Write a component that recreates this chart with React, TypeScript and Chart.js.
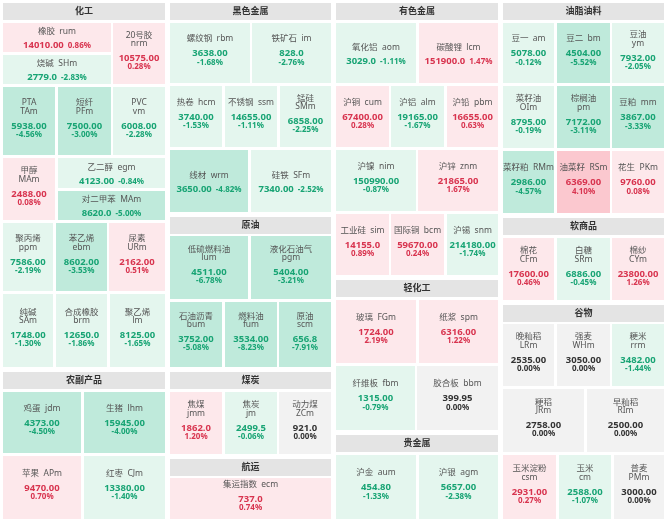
import React, { useEffect, useRef } from 'react';
import { Chart, registerables } from 'chart.js';

Chart.register(...registerables);

const W = 665;
const H = 519;

// ---------- data ----------
const GROUP_NAMES = ['化工', '农副产品', '黑色金属', '原油', '煤炭', '航运', '有色金属', '轻化工', '贵金属', '油脂油料', '软商品', '谷物'];

const NAMES = ['橡胶', '20号胶', '烧碱', 'PTA', '短纤', 'PVC', '甲醇', '乙二醇', '对二甲苯', '聚丙烯', '苯乙烯', '尿素', '纯碱', '合成橡胶', '聚乙烯',
  '鸡蛋', '生猪', '苹果', '红枣',
  '螺纹钢', '铁矿石', '热卷', '不锈钢', '锰硅', '线材', '硅铁',
  '低硫燃料油', '液化石油气', '石油沥青', '燃料油', '原油',
  '焦煤', '焦炭', '动力煤',
  '集运指数',
  '氧化铝', '碳酸锂', '沪铜', '沪铝', '沪铅', '沪镍', '沪锌', '工业硅', '国际铜', '沪锡',
  '玻璃', '纸浆', '纤维板', '胶合板',
  '沪金', '沪银',
  '豆一', '豆二', '豆油', '菜籽油', '棕榈油', '豆粕', '菜籽粕', '油菜籽', '花生',
  '棉花', '白糖', '棉纱',
  '晚籼稻', '强麦', '粳米', '粳稻', '早籼稻', '玉米淀粉', '玉米', '普麦'];

const CODES = ['rum', 'nrm', 'SHm', 'TAm', 'PFm', 'vm', 'MAm', 'egm', 'MAm', 'ppm', 'ebm', 'URm', 'SAm', 'brm', 'lm',
  'jdm', 'lhm', 'APm', 'CJm',
  'rbm', 'im', 'hcm', 'ssm', 'SMm', 'wrm', 'SFm',
  'lum', 'pgm', 'bum', 'fum', 'scm',
  'jmm', 'jm', 'ZCm',
  'ecm',
  'aom', 'lcm', 'cum', 'alm', 'pbm', 'nim', 'znm', 'sim', 'bcm', 'snm',
  'FGm', 'spm', 'fbm', 'bbm',
  'aum', 'agm',
  'am', 'bm', 'ym', 'OIm', 'pm', 'mm', 'RMm', 'RSm', 'PKm',
  'CFm', 'SRm', 'CYm',
  'LRm', 'WHm', 'rrm', 'JRm', 'RIm', 'csm', 'cm', 'PMm'];

const PRICES = [14010, 10575, 2779, 5938, 7500, 6008, 2488, 4123, 8620, 7586, 8602, 2162, 1748, 12650, 8125,
  4373, 15945, 9470, 13380,
  3638, 828, 3740, 14655, 6858, 3650, 7340,
  4511, 5404, 3752, 3534, 656.8,
  1862, 2499.5, 921,
  737,
  3029, 151900, 67400, 19165, 16655, 150990, 21865, 14155, 59670, 214180,
  1724, 6316, 1315, 399.95,
  454.8, 5657,
  5078, 4504, 7932, 8795, 7172, 3867, 2986, 6369, 9760,
  17600, 6886, 23800,
  2535, 3050, 3482, 2758, 2500, 2931, 2588, 3000];

const DECIMALS = [2, 2, 1, 2, 2, 2, 2, 2, 1, 2, 2, 2, 2, 1, 2,
  2, 2, 2, 2,
  2, 1, 2, 2, 2, 2, 2,
  2, 2, 2, 2, 1,
  1, 1, 1,
  1,
  1, 1, 2, 2, 2, 2, 2, 1, 2, 2,
  2, 2, 2, 2,
  2, 2,
  2, 2, 2, 2, 2, 2, 2, 2, 2,
  2, 2, 2,
  2, 2, 2, 2, 2, 2, 2, 2];

const CHANGES = [0.86, 0.28, -2.83, -4.56, -3.00, -2.28, 0.08, -0.84, -5.00, -2.19, -3.53, 0.51, -1.30, -1.86, -1.65,
  -4.50, -4.00, 0.70, -1.40,
  -1.68, -2.76, -1.53, -1.11, -2.25, -4.82, -2.52,
  -6.78, -3.21, -5.08, -8.23, -7.91,
  1.20, -0.06, 0.00,
  0.74,
  -1.11, 1.47, 0.28, -1.67, 0.63, -0.87, 1.67, 0.89, 0.24, -1.74,
  2.19, 1.22, -0.79, 0.00,
  -1.33, -2.38,
  -0.12, -5.52, -2.05, -0.19, -3.11, -3.33, -4.57, 4.10, 0.08,
  0.46, -0.45, 1.26,
  0.00, 0.00, -1.44, 0.00, 0.00, 0.27, -1.07, 0.00];

// ---------- label style flags ----------
const STACKED_LABEL = new Set([1, 3, 4, 5, 6, 9, 10, 11, 12, 13, 14, 23, 26, 27, 28, 29, 30, 31, 32, 33, 53, 54, 55, 60, 61, 62, 63, 64, 65, 66, 67, 68, 69, 70]);
const INLINE_VALUE = new Set([0, 2, 7, 8, 24, 25, 35, 36]);

// ---------- treemap structure (relative weights) ----------
type CellSpec = { w: number; i?: number; stack?: number[] };
type RowSpec = { h: number; cells: CellSpec[] };
type GroupSpec = { g: number; h: number; rows: RowSpec[] };

const LAYOUT: GroupSpec[][] = [
  [
    { g: 0, h: 364, rows: [
      { h: 62, cells: [{ w: 107, stack: [0, 2] }, { w: 51, i: 1 }] },
      { h: 69, cells: [{ w: 52, i: 3 }, { w: 53, i: 4 }, { w: 51, i: 5 }] },
      { h: 63, cells: [{ w: 52, i: 6 }, { w: 107, stack: [7, 8] }] },
      { h: 68, cells: [{ w: 50, i: 9 }, { w: 51, i: 10 }, { w: 55, i: 11 }] },
      { h: 74, cells: [{ w: 50, i: 12 }, { w: 51, i: 13 }, { w: 54, i: 14 }] },
    ] },
    { g: 1, h: 147, rows: [
      { h: 61, cells: [{ w: 78, i: 15 }, { w: 80, i: 16 }] },
      { h: 63, cells: [{ w: 78, i: 17 }, { w: 80, i: 18 }] },
    ] },
  ],
  [
    { g: 2, h: 208, rows: [
      { h: 60, cells: [{ w: 79, i: 19 }, { w: 78, i: 20 }] },
      { h: 61, cells: [{ w: 52, i: 21 }, { w: 52, i: 22 }, { w: 51, i: 23 }] },
      { h: 61, cells: [{ w: 78, i: 24 }, { w: 79, i: 25 }] },
    ] },
    { g: 3, h: 150, rows: [
      { h: 61, cells: [{ w: 78, i: 26 }, { w: 79, i: 27 }] },
      { h: 63, cells: [{ w: 52, i: 28 }, { w: 51, i: 29 }, { w: 51, i: 30 }] },
    ] },
    { g: 4, h: 81, rows: [
      { h: 61, cells: [{ w: 52, i: 31 }, { w: 51, i: 32 }, { w: 51, i: 33 }] },
    ] },
    { g: 5, h: 60, rows: [
      { h: 40, cells: [{ w: 1, i: 34 }] },
    ] },
  ],
  [
    { g: 6, h: 272, rows: [
      { h: 60, cells: [{ w: 80, i: 35 }, { w: 79, i: 36 }] },
      { h: 61, cells: [{ w: 53, i: 37 }, { w: 53, i: 38 }, { w: 51, i: 39 }] },
      { h: 61, cells: [{ w: 79, i: 40 }, { w: 79, i: 41 }] },
      { h: 61, cells: [{ w: 53, i: 42 }, { w: 53, i: 43 }, { w: 51, i: 44 }] },
    ] },
    { g: 7, h: 150, rows: [
      { h: 61, cells: [{ w: 80, i: 45 }, { w: 79, i: 46 }] },
      { h: 62, cells: [{ w: 78, i: 47 }, { w: 79, i: 48 }] },
    ] },
    { g: 8, h: 84, rows: [
      { h: 62, cells: [{ w: 80, i: 49 }, { w: 79, i: 50 }] },
    ] },
  ],
  [
    { g: 9, h: 208, rows: [
      { h: 60, cells: [{ w: 52, i: 51 }, { w: 53, i: 52 }, { w: 52, i: 53 }] },
      { h: 61, cells: [{ w: 52, i: 54 }, { w: 53, i: 55 }, { w: 52, i: 56 }] },
      { h: 61, cells: [{ w: 52, i: 57 }, { w: 53, i: 58 }, { w: 52, i: 59 }] },
    ] },
    { g: 10, h: 81, rows: [
      { h: 61, cells: [{ w: 52, i: 60 }, { w: 53, i: 61 }, { w: 52, i: 62 }] },
    ] },
    { g: 11, h: 212, rows: [
      { h: 59, cells: [{ w: 52, i: 63 }, { w: 53, i: 64 }, { w: 52, i: 65 }] },
      { h: 61, cells: [{ w: 80, i: 66 }, { w: 76, i: 67 }] },
      { h: 62, cells: [{ w: 52, i: 68 }, { w: 51, i: 69 }, { w: 49, i: 70 }] },
    ] },
  ],
];

// ---------- style constants ----------
const OUTER = { l: 3, t: 3, r: 664, b: 519 };
const COL_GAP = 5;
const GROUP_GAP = 5;
const HEADER_H = 17;
const HEADER_GAP = 2.5;
const ROW_GAP = 3;
const CELL_GAP = 2.5;

const FONT_FAMILY = "'Noto Sans', 'Noto Sans CJK SC', sans-serif";
const NAME_FONT = `8.5px ${FONT_FAMILY}`;
const VALUE_FONT = `bold 9.5px ${FONT_FAMILY}`;
const PCT_FONT = `bold 8px ${FONT_FAMILY}`;
const HEADER_FONT = `bold 9px ${FONT_FAMILY}`;

const HEADER_BG = '#e4e4e4';
const HEADER_TEXT = '#333333';
const NAME_TEXT = '#555555';
const UP_TEXT = '#d8344f';
const DOWN_TEXT = '#18a474';
const FLAT_TEXT = '#333333';

function cellColor(ch: number): string {
  if (ch >= 3) return '#fbc8cf';
  if (ch > 0) return '#fde8eb';
  if (ch <= -3) return '#bfeadb';
  if (ch < 0) return '#e4f6ee';
  return '#f2f2f2';
}
function textColor(ch: number): string {
  if (ch > 0) return UP_TEXT;
  if (ch < 0) return DOWN_TEXT;
  return FLAT_TEXT;
}

type Rect = { x0: number; y0: number; x1: number; y1: number };

function split(start: number, len: number, weights: number[], gap: number): [number, number][] {
  const total = weights.reduce((a, b) => a + b, 0);
  const avail = len - gap * (weights.length - 1);
  let pos = start;
  return weights.map((w) => {
    const s = pos;
    const e = s + (avail * w) / total;
    pos = e + gap;
    return [s, e] as [number, number];
  });
}

function computeLayout() {
  const headers: { g: number; r: Rect }[] = [];
  const cells: { i: number; r: Rect }[] = [];
  const cols = split(OUTER.l, OUTER.r - OUTER.l, LAYOUT.map(() => 1), COL_GAP);
  LAYOUT.forEach((groups, ci) => {
    const [x0, x1] = cols[ci];
    const gs = split(OUTER.t, OUTER.b - OUTER.t, groups.map((g) => g.h), GROUP_GAP);
    groups.forEach((grp, gi) => {
      const [gy0, gy1] = gs[gi];
      headers.push({ g: grp.g, r: { x0, x1, y0: gy0, y1: gy0 + HEADER_H } });
      const by0 = gy0 + HEADER_H + HEADER_GAP;
      const rows = split(by0, gy1 - by0, grp.rows.map((r) => r.h), ROW_GAP);
      grp.rows.forEach((row, ri) => {
        const [ry0, ry1] = rows[ri];
        const cs = split(x0, x1 - x0, row.cells.map((c) => c.w), CELL_GAP);
        row.cells.forEach((c, k) => {
          const [cx0, cx1] = cs[k];
          if (c.stack) {
            const st = split(ry0, ry1 - ry0, c.stack.map(() => 1), ROW_GAP);
            c.stack.forEach((idx, si) => {
              cells.push({ i: idx, r: { x0: cx0, x1: cx1, y0: st[si][0], y1: st[si][1] } });
            });
          } else if (c.i !== undefined) {
            cells.push({ i: c.i, r: { x0: cx0, x1: cx1, y0: ry0, y1: ry1 } });
          }
        });
      });
    });
  });
  return { headers, cells };
}

const LAYOUT_RESULT = computeLayout();

function drawCellText(ctx: CanvasRenderingContext2D, i: number, l: number, t: number, r: number, b: number) {
  const ch = CHANGES[i];
  const col = textColor(ch);
  const cx = (l + r) / 2;
  const inline = INLINE_VALUE.has(i);
  const nameLines = STACKED_LABEL.has(i) ? [NAMES[i], CODES[i]] : [NAMES[i] + '  ' + CODES[i]];
  const price = PRICES[i].toFixed(DECIMALS[i]);
  const pct = ch.toFixed(2) + '%';
  const NAME_LH = 8.5;
  const VAL_LH = 9;
  const PCT_LH = 8;
  const gap = inline ? 4 : 6;
  const blockH = nameLines.length * NAME_LH + gap + (inline ? VAL_LH : VAL_LH + PCT_LH);
  const cy = (t + b) / 2 + (inline ? 1 : -2.5);
  let y = cy - blockH / 2;
  ctx.textBaseline = 'middle';
  ctx.textAlign = 'center';
  ctx.fillStyle = NAME_TEXT;
  ctx.font = NAME_FONT;
  nameLines.forEach((ln) => {
    ctx.fillText(ln, cx, y + NAME_LH / 2);
    y += NAME_LH;
  });
  y += gap;
  ctx.fillStyle = col;
  if (inline) {
    ctx.font = VALUE_FONT;
    const wv = ctx.measureText(price).width;
    ctx.font = PCT_FONT;
    const wp = ctx.measureText(pct).width;
    const space = 4;
    const total = wv + space + wp;
    const base = y + VAL_LH / 2 + 3.3;
    ctx.textBaseline = 'alphabetic';
    ctx.textAlign = 'left';
    ctx.font = VALUE_FONT;
    ctx.fillText(price, cx - total / 2, base);
    ctx.font = PCT_FONT;
    ctx.fillText(pct, cx - total / 2 + wv + space, base);
  } else {
    ctx.font = VALUE_FONT;
    ctx.fillText(price, cx, y + VAL_LH / 2);
    y += VAL_LH;
    ctx.font = PCT_FONT;
    ctx.fillText(pct, cx, y + PCT_LH / 2);
  }
}

const treemapPlugin = {
  id: 'treemapCells',
  afterDatasetsDraw(chart: any) {
    const { ctx } = chart;
    const xs = chart.scales.x;
    const ys = chart.scales.y;
    const px = (v: number) => Math.round(xs.getPixelForValue(v));
    const py = (v: number) => Math.round(ys.getPixelForValue(v));
    ctx.save();
    LAYOUT_RESULT.headers.forEach(({ g, r }) => {
      const l = px(r.x0), rr = px(r.x1), t = py(r.y0), b = py(r.y1);
      ctx.fillStyle = HEADER_BG;
      ctx.fillRect(l, t, rr - l, b - t);
      ctx.fillStyle = HEADER_TEXT;
      ctx.font = HEADER_FONT;
      ctx.textAlign = 'center';
      ctx.textBaseline = 'middle';
      ctx.fillText(GROUP_NAMES[g], (l + rr) / 2, (t + b) / 2);
    });
    LAYOUT_RESULT.cells.forEach(({ i, r }) => {
      const l = px(r.x0), rr = px(r.x1), t = py(r.y0), b = py(r.y1);
      ctx.fillStyle = cellColor(CHANGES[i]);
      ctx.fillRect(l, t, rr - l, b - t);
      drawCellText(ctx, i, l, t, rr, b);
    });
    ctx.restore();
  },
};

export default function App() {
  const ref = useRef<HTMLCanvasElement>(null);
  useEffect(() => {
    document.body.style.margin = '0';
    const canvas = ref.current;
    if (!canvas) return;
    const centers = LAYOUT_RESULT.cells.map(({ r }) => ({ x: (r.x0 + r.x1) / 2, y: (r.y0 + r.y1) / 2 }));
    const chart = new Chart(canvas, {
      type: 'scatter',
      data: { datasets: [{ data: centers, pointRadius: 0, pointHoverRadius: 0 }] },
      options: {
        animation: false,
        responsive: false,
        events: [],
        layout: { padding: 0 },
        scales: {
          x: { type: 'linear', min: 0, max: W, display: false },
          y: { type: 'linear', min: 0, max: H, reverse: true, display: false },
        },
        plugins: { legend: { display: false }, tooltip: { enabled: false } },
      },
      plugins: [treemapPlugin],
    } as any);
    return () => chart.destroy();
  }, []);
  return <canvas ref={ref} width={W} height={H} style={{ display: 'block', width: W, height: H }} />;
}
